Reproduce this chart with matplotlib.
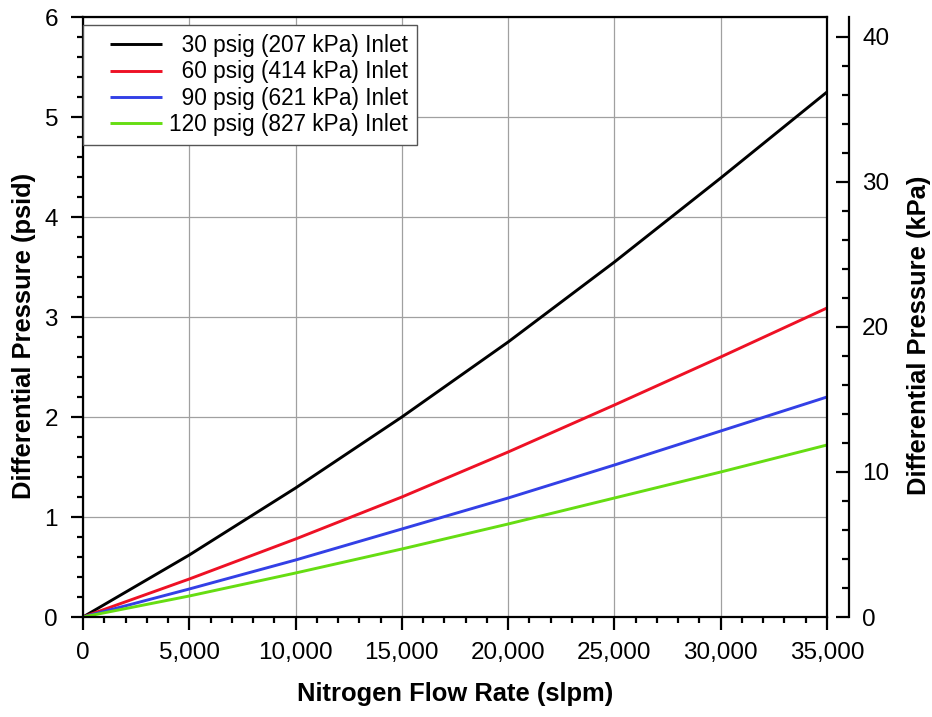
import matplotlib
matplotlib.use("Agg")
import matplotlib.pyplot as plt
from matplotlib.ticker import MultipleLocator, FuncFormatter
from matplotlib.legend_handler import HandlerLine2D
from matplotlib.lines import Line2D

plt.rcParams['font.family'] = ['Liberation Sans', 'DejaVu Sans']

flow = [0, 5000, 10000, 15000, 20000, 25000, 30000, 35000]
dp_30 = [0, 0.62, 1.29, 2.00, 2.75, 3.55, 4.39, 5.25]
dp_60 = [0, 0.38, 0.78, 1.20, 1.65, 2.12, 2.60, 3.09]
dp_90 = [0, 0.28, 0.57, 0.88, 1.19, 1.52, 1.86, 2.20]
dp_120 = [0, 0.21, 0.44, 0.68, 0.93, 1.19, 1.45, 1.72]
labels = ["\u200730 psig (207 kPa) Inlet", "\u200760 psig (414 kPa) Inlet",
          "\u200790 psig (621 kPa) Inlet", "120 psig (827 kPa) Inlet"]
colors = ["#000000", "#ee1125", "#3340e6", "#66dd12"]
series = [dp_30, dp_60, dp_90, dp_120]
PSI_TO_KPA = 6.89476


class OffsetLine(HandlerLine2D):
    def create_artists(self, legend, orig_handle, xdescent, ydescent,
                       width, height, fontsize, trans):
        frac = 0.25
        y = (height - ydescent) / 2.0
        line = Line2D([-xdescent + width * frac, width - xdescent], [y, y])
        self.update_prop(line, orig_handle, legend)
        line.set_transform(trans)
        return [line]


fig = plt.figure(figsize=(9.32, 7.17), dpi=100)
ax = fig.add_axes([83/932, 1-617/717, (827-83)/932, (617-17)/717])

handles = []
for y, c, lab in zip(series, colors, labels):
    h, = ax.plot(flow, y, color=c, lw=2.1, label=lab, solid_capstyle='butt')
    handles.append(h)

ax.set_xlim(0, 35000)
ax.set_ylim(0, 6)
ax.xaxis.set_major_locator(MultipleLocator(5000))
ax.xaxis.set_minor_locator(MultipleLocator(1000))
ax.yaxis.set_major_locator(MultipleLocator(1))
ax.yaxis.set_minor_locator(MultipleLocator(0.2))
ax.xaxis.set_major_formatter(FuncFormatter(lambda v, p: f"{int(v):,}"))
ax.grid(True, which='major', color='#a0a0a0', lw=0.9)
ax.set_axisbelow(True)
for s in ax.spines.values():
    s.set_linewidth(1.6)
ax.tick_params(which='major', direction='out', length=9, width=1.6, labelsize=17.5, colors='black')
ax.tick_params(which='minor', direction='out', length=4.5, width=1.6)
ax.tick_params(axis='x', which='major', pad=9)
ax.tick_params(axis='y', which='major', pad=9)
ax.set_xlabel("Nitrogen Flow Rate (slpm)", fontsize=18.4, fontweight='bold', labelpad=13)
ax.set_ylabel("Differential Pressure (psid)", fontsize=18.4, fontweight='bold', labelpad=6)
ax.yaxis.label.set_y(0.468)

ax2 = ax.twinx()
ax2.set_ylim(0, 6*PSI_TO_KPA)
ax2.yaxis.set_major_locator(MultipleLocator(10))
ax2.yaxis.set_minor_locator(MultipleLocator(2))
for k in ['top', 'bottom', 'left']:
    ax2.spines[k].set_visible(False)
ax2.spines['right'].set_position(('outward', 15.8))
ax2.spines['right'].set_linewidth(1.6)
ax2.tick_params(which='major', direction='in', length=9.5, width=1.6, labelsize=17.5, pad=9.5)
ax2.tick_params(which='minor', direction='in', length=5, width=1.6)
ax2.set_ylabel("Differential Pressure (kPa)", fontsize=18.4, fontweight='bold', labelpad=13)
ax2.yaxis.label.set_y(0.47)

leg = ax.legend(handles=handles, loc='upper left', bbox_to_anchor=(0, 1-8/600), fontsize=16.3,
                frameon=True, fancybox=False, framealpha=1, edgecolor='#555555',
                borderpad=0.4, handlelength=3.1, handletextpad=0.3, labelspacing=0.15,
                borderaxespad=0, handler_map={Line2D: OffsetLine()})
leg.get_frame().set_linewidth(1.0)

fig.savefig("out.png", dpi=100)
